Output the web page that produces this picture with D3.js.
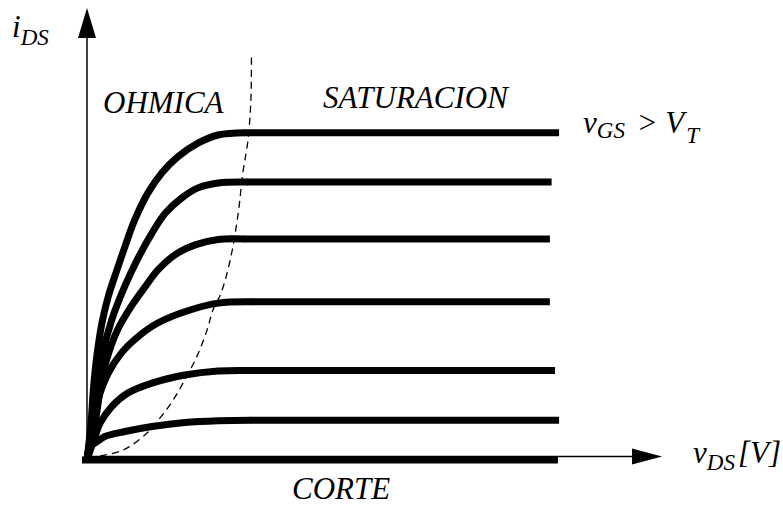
<!DOCTYPE html>
<html>
<head>
<meta charset="utf-8">
<script src="https://cdn.jsdelivr.net/npm/d3@7"></script>
</head>
<body style="margin:0">
<svg id="chart" width="783" height="507"></svg>
<script>
const ctx = {
    w: 783,
    h: 507
};

// saturation level of each curve (vGS steps)
const satLevels = [7.24, 6.15, 4.89, 3.50, 1.98, 0.88, 0];
// where each horizontal saturation line stops
const satEnds = [8.21, 8.08, 8.05, 8.05, 8.14, 8.21, 8.19];
// ohmic part of each curve, [vDS, iDS] from origin up to the knee
const ohmicPts = [
    [[0, 0], [0.07, 0.82], [0.11, 1.55], [0.17, 2.29], [0.26, 3.03], [0.37, 3.62], [0.52, 4.20], [0.66, 4.72],
     [0.83, 5.31], [1.06, 5.91], [1.30, 6.35], [1.58, 6.71], [1.93, 7.01], [2.28, 7.19], [2.75, 7.24]],
    [[0, 0], [0.11, 0.82], [0.17, 1.55], [0.26, 2.29], [0.43, 3.10], [0.66, 3.85], [0.89, 4.47], [1.13, 5.02],
     [1.36, 5.46], [1.65, 5.80], [1.93, 6.02], [2.28, 6.13], [2.80, 6.15]],
    [[0, 0], [0.14, 0.82], [0.23, 1.55], [0.34, 2.21], [0.52, 2.85], [0.78, 3.42], [1.01, 3.83], [1.23, 4.20],
     [1.53, 4.54], [1.88, 4.76], [2.28, 4.88], [2.75, 4.89]],
    [[0, 0], [0.10, 0.82], [0.19, 1.33], [0.37, 1.92], [0.60, 2.37], [0.89, 2.73], [1.23, 3.03], [1.70, 3.28],
     [2.28, 3.47], [2.86, 3.50]],
    [[0, 0], [0.14, 0.52], [0.23, 0.82], [0.43, 1.18], [0.71, 1.48], [1.13, 1.70], [1.70, 1.88], [2.28, 1.97],
     [2.86, 1.98]],
    [[0, 0], [0.05, 0.29], [0.17, 0.40], [0.31, 0.52], [0.66, 0.63], [1.13, 0.74], [1.70, 0.83], [2.28, 0.87],
     [2.86, 0.88]],
    [[-0.07, 0]]
];
// boundary ohmic / saturation (dashed)
const boundary = [[0.23, 0.09], [0.63, 0.22], [1.04, 0.59], [1.27, 0.93], [1.50, 1.33], [1.67, 1.70],
    [1.91, 2.29], [2.09, 2.88], [2.19, 3.32], [2.33, 3.69], [2.49, 4.42], [2.63, 5.46], [2.71, 6.35],
    [2.80, 7.08], [2.85, 7.96], [2.86, 9.00]];

const svg = d3.select("#chart");

const x = d3.scaleLinear().domain([0, 10]).range([87, 662]);
const y = d3.scaleLinear().domain([0, 10]).range([460, 8]);

// labels
const lab = svg.append("g").attr("id", "labG");
function label(xp, yp) {
    return lab.append("text")
        .attr("x", xp).attr("y", yp)
        .attr("font-family", "Liberation Serif")
        .attr("font-style", "italic")
        .attr("font-size", 31);
}

let t = label(12, 37);
t.append("tspan").text("i");
t.append("tspan").attr("dy", 8).attr("font-size", 23).text("DS");

label(103, 113).text("OHMICA");
label(323, 108).text("SATURACION");
label(292, 499).text("CORTE");

t = label(583, 133);
t.append("tspan").text("v");
t.append("tspan").attr("dy", 5).attr("font-size", 23).text("GS");
t.append("tspan").attr("dy", -5).attr("dx", 4).text(" > V");
t.append("tspan").attr("dy", 10).attr("dx", 2).attr("font-size", 23).text("T");

t = label(693, 463);
t.append("tspan").text("v");
t.append("tspan").attr("dy", 7).attr("font-size", 23).text("DS");
t.append("tspan").attr("dy", -7).attr("dx", 3).text("[V]");

// axes (thin lines with filled arrow heads)
const axisG = svg.append("g").attr("id", "axisG");
axisG.append("line")
    .attr("x1", x(0)).attr("y1", y(0))
    .attr("x2", x(0)).attr("y2", y(10) + 28)
    .attr("stroke", "#000").attr("stroke-width", 1.5);
axisG.append("path")
    .attr("d", `M${x(0)},${y(10)} L${x(0) - 9},${y(10) + 30} L${x(0) + 9},${y(10) + 30} Z`)
    .attr("fill", "#000");
axisG.append("line")
    .attr("x1", x(0)).attr("y1", y(0) - 3.5)
    .attr("x2", x(10) - 28).attr("y2", y(0) - 3.5)
    .attr("stroke", "#000").attr("stroke-width", 1.5);
axisG.append("path")
    .attr("d", `M${x(10)},${y(0) - 3.5} L${x(10) - 30},${y(0) - 11.5} L${x(10) - 30},${y(0) + 4.5} Z`)
    .attr("fill", "#000");

// characteristic curves: smooth ohmic part + flat saturation line
const ohmicLine = d3.line()
    .curve(d3.curveCatmullRom.alpha(0.5))
    .x(d => x(d[0]))
    .y(d => y(d[1]));

const curveG = svg.append("g").attr("id", "curveG");
satLevels.forEach((lvl, i) => {
    let pts = ohmicPts[i];
    let knee = pts[pts.length - 1];
    if (pts.length > 1) {
        curveG.append("path")
            .datum(pts)
            .attr("fill", "none")
            .attr("stroke", "#000")
            .attr("stroke-width", 7)
            .attr("stroke-linejoin", "round")
            .attr("d", ohmicLine);
    }
    curveG.append("line")
        .attr("x1", x(knee[0]) - 1).attr("y1", y(lvl))
        .attr("x2", x(satEnds[i])).attr("y2", y(lvl))
        .attr("stroke", "#000")
        .attr("stroke-width", 7);
});

// dashed boundary
svg.append("path")
    .datum(boundary)
    .attr("fill", "none")
    .attr("stroke", "#000")
    .attr("stroke-width", 1.3)
    .attr("stroke-dasharray", "7,5")
    .attr("d", d3.line().curve(d3.curveCatmullRom.alpha(0.5)).x(d => x(d[0])).y(d => y(d[1])));
</script>
</body>
</html>
